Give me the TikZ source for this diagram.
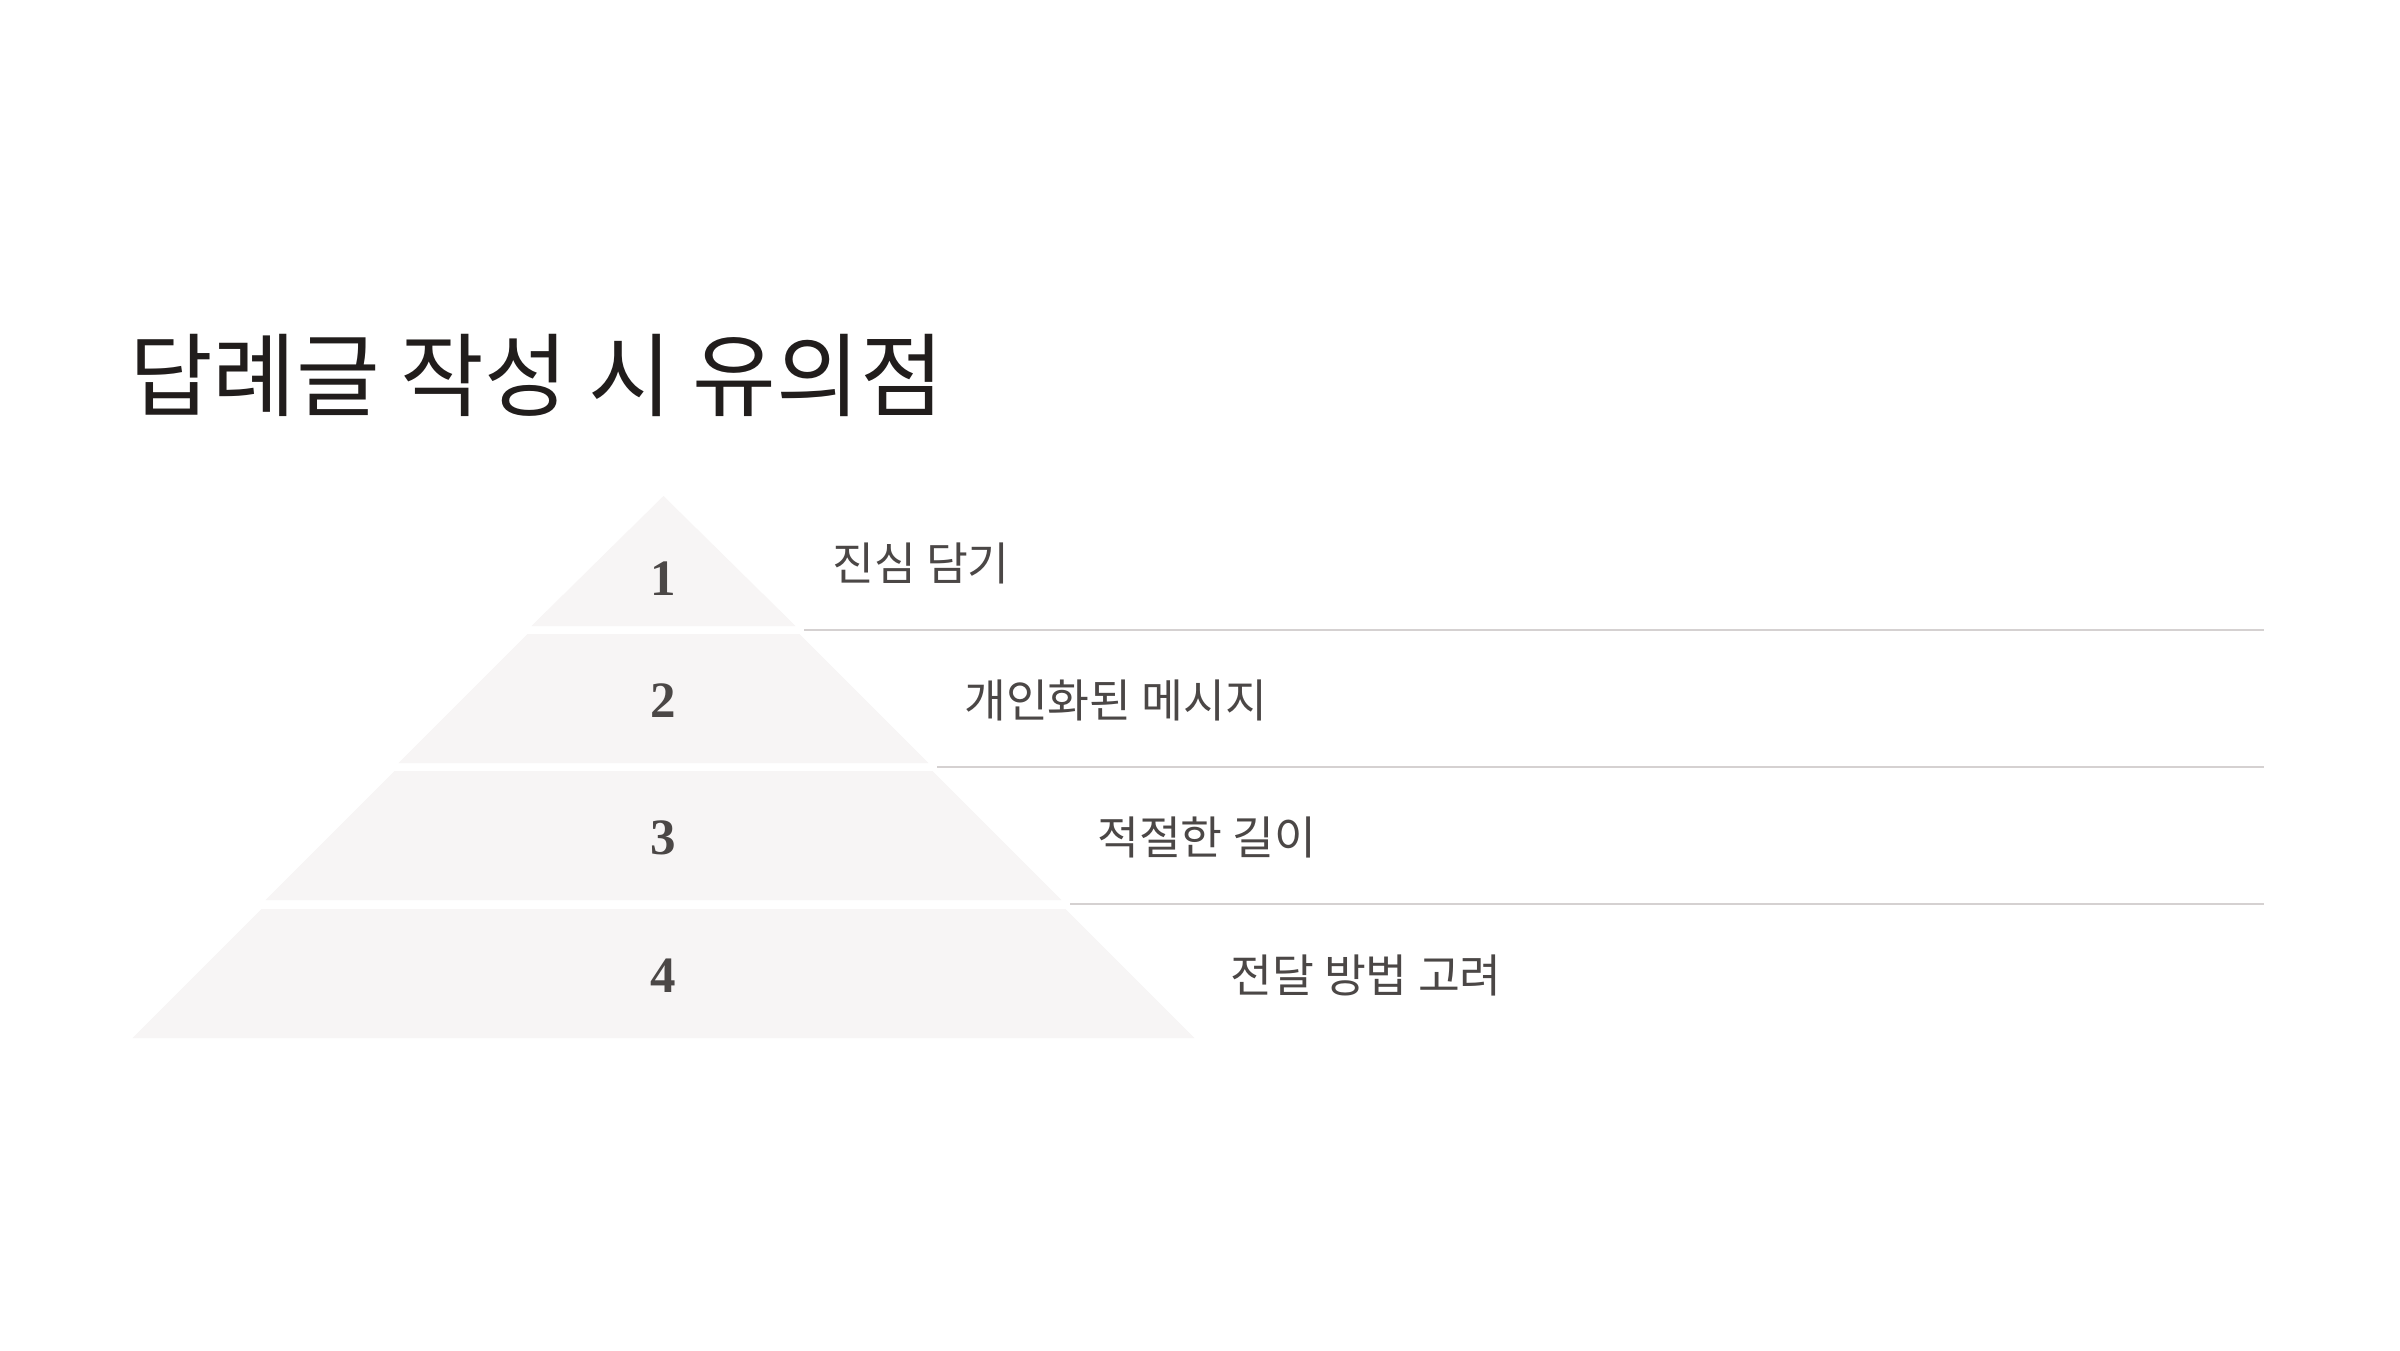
\documentclass[tikz,border=0pt]{standalone}
\usepackage{fontspec}
\newfontfamily\krtitle{Noto Sans CJK KR}
\newfontfamily\krlabel{Noto Sans CJK KR}
\newfontfamily\numfont{Liberation Serif}
\definecolor{tierfill}{HTML}{F7F5F5}
\definecolor{rulegray}{HTML}{D5D1D1}
\definecolor{titlecol}{HTML}{211D1C}
\definecolor{textcol}{HTML}{4B4746}
\tikzset{
  tier/.style={fill=tierfill, draw=none},
  divider/.style={draw=rulegray, line width=2.5pt},
  titletext/.style={inner sep=0pt, anchor=base west, text=titlecol, font=\krtitle\fontsize{91}{100}\selectfont},
  labeltext/.style={inner sep=0pt, anchor=base west, text=textcol, font=\krlabel\fontsize{45.5}{50}\selectfont},
  numtext/.style={inner sep=0pt, anchor=base, text=textcol, font=\numfont\bfseries\fontsize{51}{56}\selectfont}
}
\begin{document}
\begin{tikzpicture}[x=1pt,y=-1pt]
\path[use as bounding box, fill=white] (0,0) rectangle (2400,1350);
% title
\node[titletext] (title) at (129,409) {답례글 작성 시 유의점};
% pyramid tiers
\fill[tier] (663.5,496) -- (795.5,626) -- (531.5,626) -- cycle;
\fill[tier] (527.5,634) -- (799.5,634) -- (928.5,763) -- (398.5,763) -- cycle;
\fill[tier] (394.5,771) -- (932.5,771) -- (1061.5,900) -- (265.5,900) -- cycle;
\fill[tier] (261.5,909) -- (1065.5,909) -- (1194.5,1038) -- (132.5,1038) -- cycle;
% numbers
\node[numtext] (n1) at (663.5,595) {1};
\node[numtext] (n2) at (663.5,717) {2};
\node[numtext] (n3) at (663.5,854) {3};
\node[numtext] (n4) at (663.5,992) {4};
% dividers
\coordinate (d1a) at (804,630);  \coordinate (d1b) at (2264,630);
\coordinate (d2a) at (937,767);  \coordinate (d2b) at (2264,767);
\coordinate (d3a) at (1070,904); \coordinate (d3b) at (2264,904);
\draw[divider] (d1a) -- (d1b);
\draw[divider] (d2a) -- (d2b);
\draw[divider] (d3a) -- (d3b);
% labels
\node[labeltext] (l1) at (832,580) {진심 담기};
\node[labeltext] (l2) at (964,717) {개인화된 메시지};
\node[labeltext] (l3) at (1097,854) {적절한 길이};
\node[labeltext] (l4) at (1230,992) {전달 방법 고려};
\end{tikzpicture}
\end{document}
